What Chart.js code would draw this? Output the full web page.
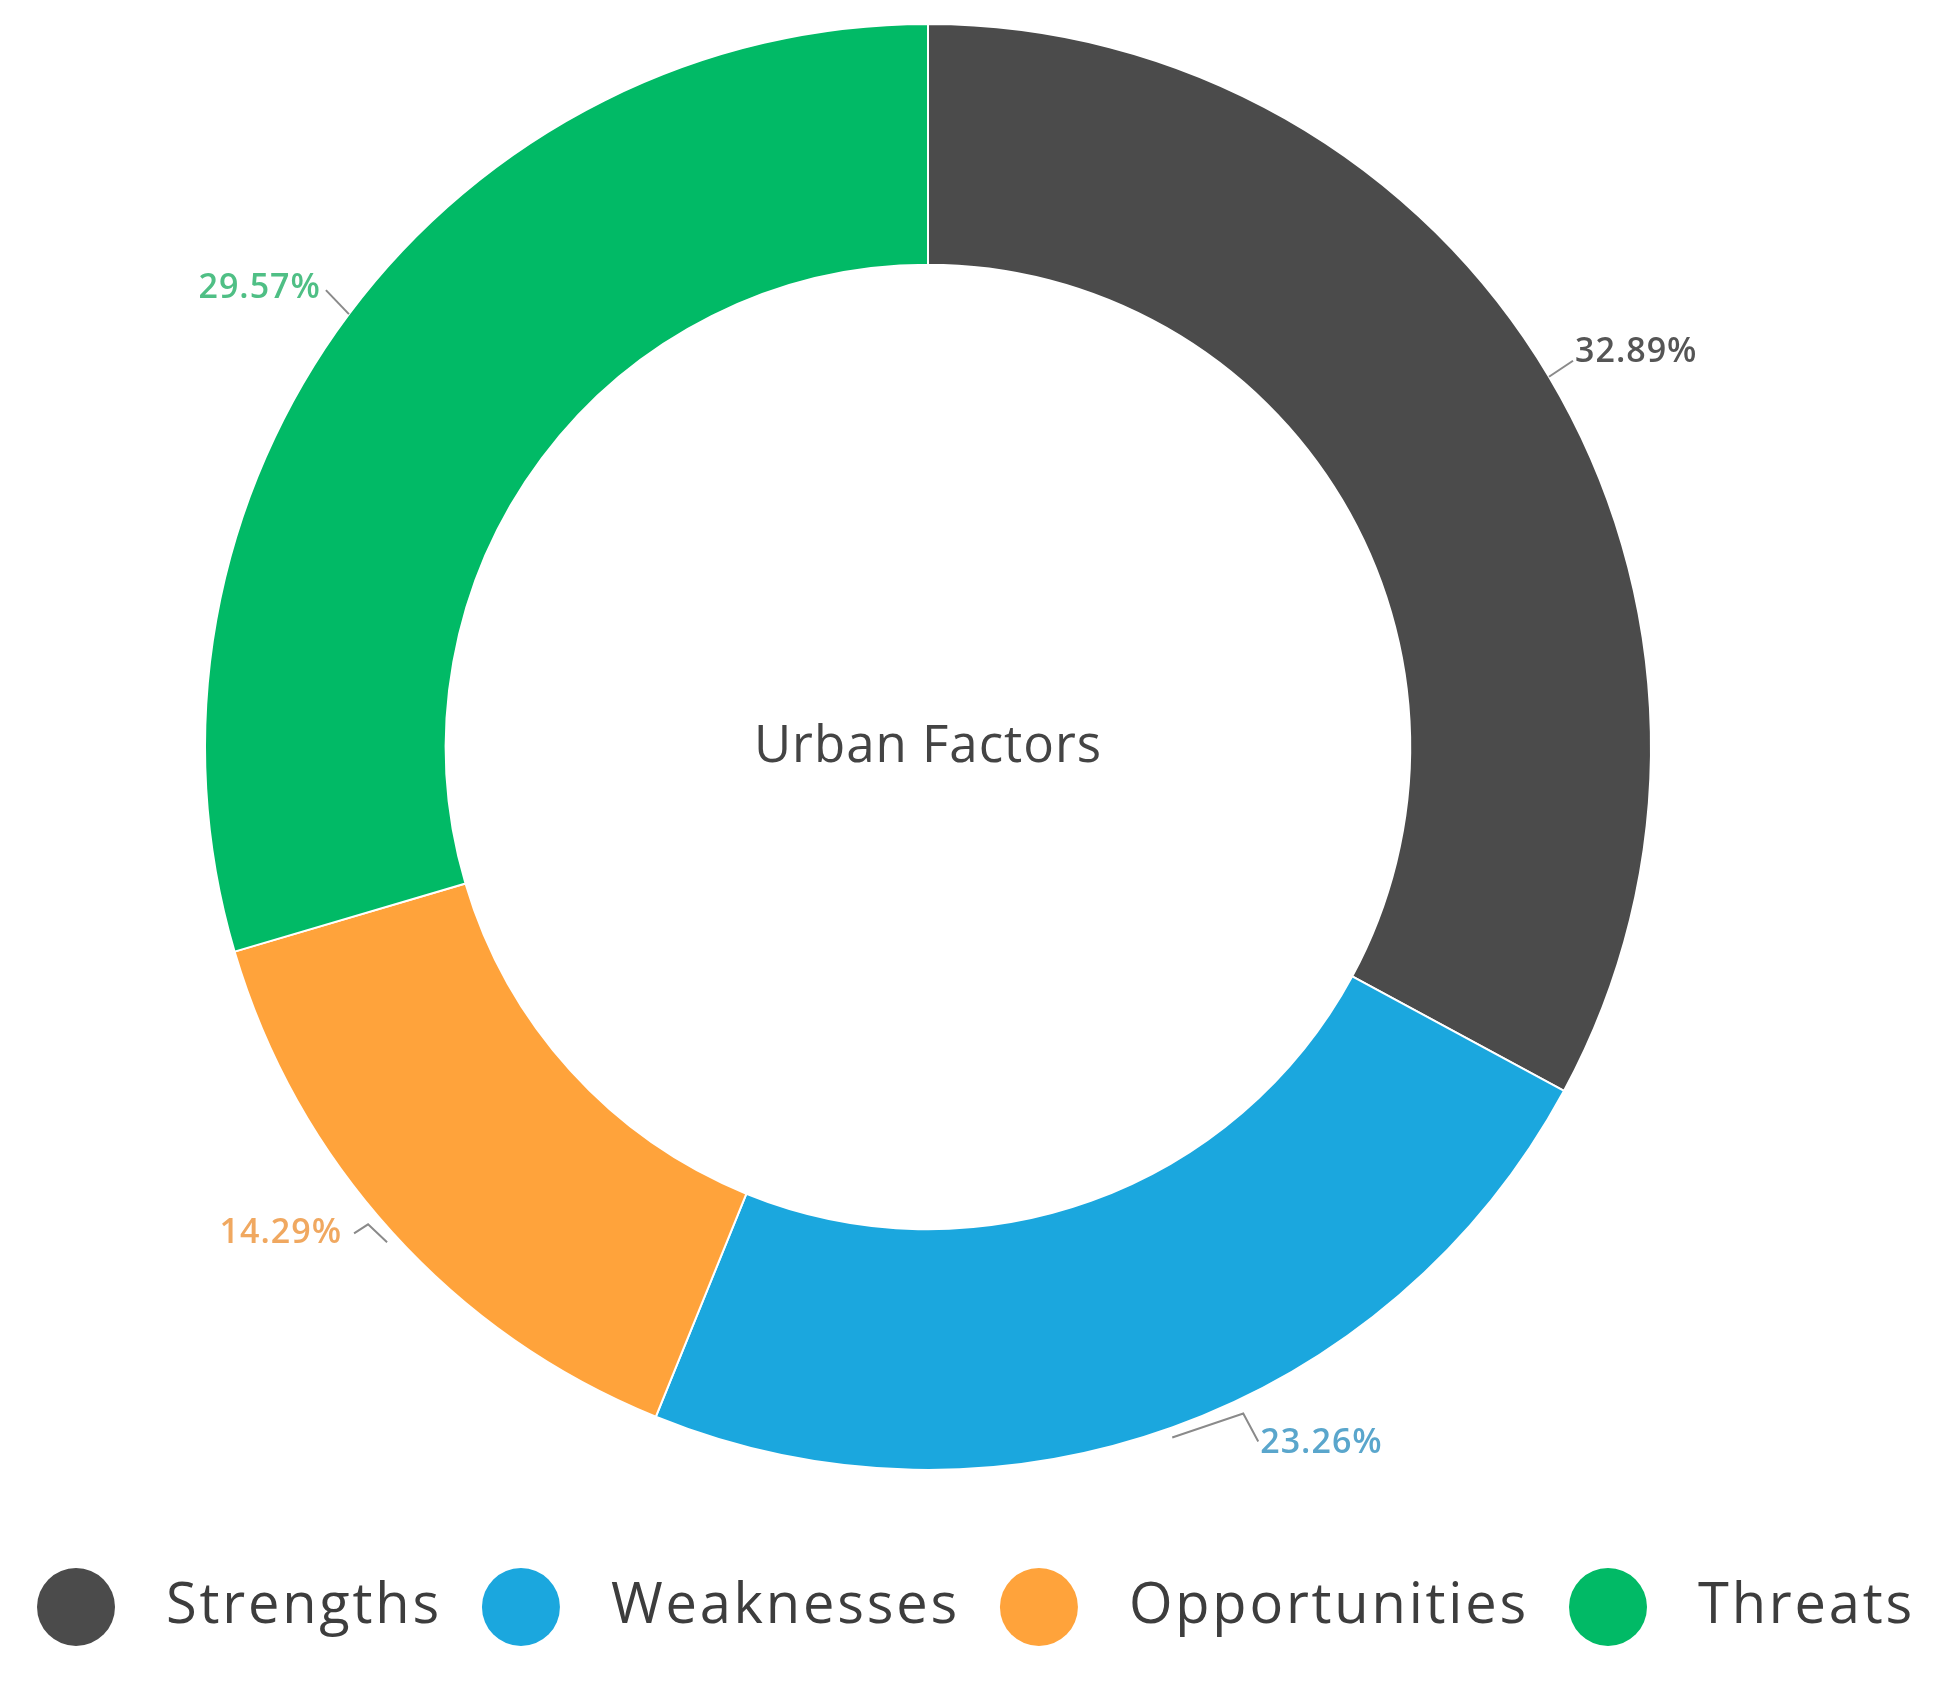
<!DOCTYPE html>
<html lang="en">
<head>
    <meta charset="UTF-8">
    <title>Urban Factors</title>
    <script src="https://cdn.jsdelivr.net/npm/chart.js"></script>
    <style>
        html, body {
            margin: 0;
            padding: 0;
            background: #ffffff;
        }
        #wrap {
            width: 1953px;
            height: 1684px;
            position: relative;
        }
    </style>
</head>
<body>
    <div id="wrap">
        <canvas id="swotChart" width="1953" height="1684"></canvas>
    </div>

    <script>
        const categories = ["Strengths", "Weaknesses", "Opportunities", "Threats"];
        const shares = [32.89, 23.26, 14.29, 29.57];
        const sliceColors = ["#4b4b4b", "#1ba7de", "#ffa33b", "#01ba66"];
        const labelColors = ["#555555", "#5aa6cc", "#f0a860", "#4fbf85"];
        const centerTitle = "Urban Factors";

        // leader lines, drawn from the outer edge at the middle of each slice
        // offsets are [dx, dy] in px, text anchored at the last point
        const leaders = [
            { pts: [[0, 0], [24, -16]], align: "left", tx: 2, ty: -8 },
            { pts: [[0, 10], [71, -14], [86, 14]], align: "left", tx: 2, ty: 2 },
            { pts: [[-5, 10], [-24, -8], [-38, 1]], align: "right", tx: -12, ty: 0 },
            { pts: [[0, 0], [-23, -24]], align: "right", tx: -5, ty: -2 }
        ];

        const FONT = "'Open Sans', 'DejaVu Sans', sans-serif";

        const sliceLabels = {
            id: "sliceLabels",
            afterDatasetsDraw(chart) {
                const ctx = chart.ctx;
                const arcs = chart.getDatasetMeta(0).data;
                ctx.save();
                ctx.font = "600 34px " + FONT;
                ctx.letterSpacing = "1px";
                ctx.textBaseline = "middle";
                arcs.forEach((arc, i) => {
                    const p = arc.getProps(["x", "y", "startAngle", "endAngle", "outerRadius"], true);
                    const mid = (p.startAngle + p.endAngle) / 2;
                    const ax = p.x + Math.cos(mid) * p.outerRadius;
                    const ay = p.y + Math.sin(mid) * p.outerRadius;
                    const l = leaders[i];
                    ctx.strokeStyle = "#8a8a8a";
                    ctx.lineWidth = 2;
                    ctx.beginPath();
                    l.pts.forEach((pt, k) => {
                        if (k === 0) ctx.moveTo(ax + pt[0], ay + pt[1]);
                        else ctx.lineTo(ax + pt[0], ay + pt[1]);
                    });
                    ctx.stroke();
                    const last = l.pts[l.pts.length - 1];
                    ctx.fillStyle = labelColors[i];
                    ctx.textAlign = l.align;
                    ctx.fillText(shares[i].toFixed(2) + "%", ax + last[0] + l.tx, ay + last[1] + l.ty);
                });

                // title in the hole
                const c = arcs[0];
                ctx.font = "500 51px " + FONT;
                ctx.letterSpacing = "1px";
                ctx.fillStyle = "#444444";
                ctx.textAlign = "center";
                ctx.fillText(centerTitle, c.x, c.y);
                ctx.restore();
            }
        };

        // big round legend markers along the bottom
        const bigLegend = {
            id: "bigLegend",
            afterDraw(chart) {
                const ctx = chart.ctx;
                const y = 1607;
                const r = 39;
                const gapText = 90;
                const gapNext = 79;
                ctx.save();
                ctx.font = "56px " + FONT;
                ctx.letterSpacing = "2.8px";
                ctx.textBaseline = "middle";
                ctx.textAlign = "left";
                let x = 76;
                categories.forEach((name, i) => {
                    ctx.fillStyle = sliceColors[i];
                    ctx.beginPath();
                    ctx.arc(x, y, r, 0, Math.PI * 2);
                    ctx.fill();
                    ctx.fillStyle = "#3d3d3d";
                    ctx.fillText(name, x + gapText, y);
                    x += gapText + ctx.measureText(name).width + gapNext;
                });
                ctx.restore();
            }
        };

        new Chart(document.getElementById("swotChart"), {
            type: "doughnut",
            data: {
                labels: categories,
                datasets: [{
                    data: shares,
                    backgroundColor: sliceColors,
                    borderColor: "#ffffff",
                    borderWidth: 2
                }]
            },
            options: {
                responsive: false,
                animation: false,
                cutout: "66.7%",
                layout: {
                    padding: { top: 23, bottom: 213, left: 204, right: 301 }
                },
                plugins: {
                    legend: { display: false },
                    tooltip: { enabled: false }
                }
            },
            plugins: [sliceLabels, bigLegend]
        });
    </script>
</body>
</html>
